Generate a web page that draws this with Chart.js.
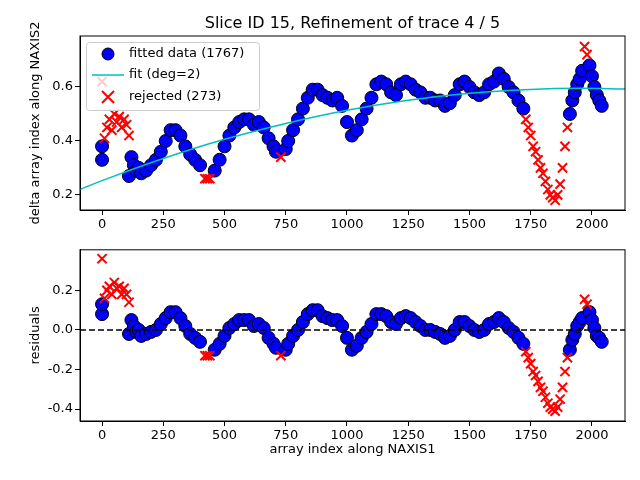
<!DOCTYPE html>
<html><head><meta charset="utf-8">
<script src="https://cdn.jsdelivr.net/npm/chart.js@4"></script>
<style>body{margin:0;background:#fff}#wrap{width:640px;height:480px}canvas{display:block}</style>
</head><body><div id="wrap">
<div style="width:640px;height:240px"><canvas id="top"></canvas></div>
<div style="width:640px;height:240px"><canvas id="bot"></canvas></div>
</div>
<script>
const fitX = [0,0,110,120,130,140,150,160,180,200,220,240,260,280,300,320,340,360,380,400,460,480,500,520,540,560,580,600,620,640,660,680,700,710,750,760,780,800,820,840,860,880,900,920,940,960,980,1000,1020,1040,1060,1080,1100,1120,1140,1160,1180,1200,1220,1240,1260,1280,1300,1320,1340,1360,1380,1400,1420,1440,1460,1480,1500,1520,1540,1560,1580,1600,1620,1640,1660,1680,1700,1720,1910,1920,1930,1940,1950,1960,1990,2000,2010,2020,2030,2040];
const fitY = [0.33,0.38,0.27,0.34,0.31,0.29,0.30,0.28,0.29,0.31,0.33,0.36,0.40,0.44,0.44,0.42,0.38,0.35,0.33,0.31,0.29,0.33,0.38,0.42,0.45,0.47,0.48,0.48,0.46,0.47,0.45,0.41,0.38,0.36,0.37,0.40,0.44,0.48,0.52,0.56,0.59,0.59,0.57,0.56,0.55,0.56,0.53,0.47,0.42,0.44,0.48,0.52,0.56,0.61,0.62,0.61,0.58,0.57,0.61,0.62,0.61,0.59,0.58,0.56,0.56,0.55,0.55,0.53,0.54,0.57,0.61,0.62,0.60,0.58,0.57,0.58,0.61,0.62,0.65,0.63,0.60,0.58,0.55,0.52,0.50,0.55,0.58,0.61,0.63,0.66,0.68,0.64,0.60,0.57,0.55,0.53];
const fitRes = [0.08,0.13,-0.02,0.05,0.02,-0.01,0.00,-0.03,-0.02,-0.01,0.00,0.03,0.06,0.09,0.09,0.06,0.02,-0.02,-0.04,-0.06,-0.10,-0.07,-0.03,0.01,0.03,0.05,0.05,0.05,0.02,0.03,0.01,-0.04,-0.07,-0.09,-0.10,-0.07,-0.03,0.00,0.04,0.08,0.10,0.10,0.07,0.06,0.05,0.05,0.02,-0.04,-0.10,-0.08,-0.04,-0.01,0.03,0.08,0.08,0.07,0.04,0.03,0.06,0.07,0.06,0.04,0.02,0.00,0.00,-0.01,-0.02,-0.04,-0.03,0.00,0.04,0.04,0.02,0.00,-0.01,0.00,0.03,0.04,0.06,0.04,0.01,-0.01,-0.04,-0.07,-0.10,-0.05,-0.02,0.02,0.04,0.06,0.09,0.05,0.01,-0.03,-0.04,-0.06];
const rejX = [0,10,20,30,40,50,60,70,80,90,100,110,420,430,440,730,1730,1740,1750,1760,1770,1780,1790,1800,1810,1820,1830,1840,1850,1860,1870,1880,1890,1900,1970,1980];
const rejY = [0.62,0.41,0.45,0.48,0.44,0.50,0.47,0.49,0.45,0.48,0.46,0.42,0.26,0.26,0.26,0.34,0.48,0.45,0.42,0.38,0.36,0.33,0.30,0.28,0.25,0.22,0.20,0.19,0.18,0.20,0.24,0.30,0.38,0.45,0.75,0.72];
const rejRes = [0.36,0.16,0.20,0.22,0.18,0.24,0.21,0.22,0.18,0.21,0.18,0.14,-0.13,-0.13,-0.13,-0.13,-0.11,-0.14,-0.17,-0.21,-0.23,-0.26,-0.29,-0.31,-0.34,-0.37,-0.39,-0.40,-0.41,-0.39,-0.35,-0.29,-0.21,-0.14,0.155,0.13];
const lineX = [-90,0,250,500,750,1000,1250,1500,1750,1950,2140];
const lineY = [0.22,0.253,0.335,0.406,0.465,0.514,0.551,0.577,0.591,0.595,0.592];
const xTicks = [0,250,500,750,1000,1250,1500,1750,2000];

const pts = (xs, ys) => xs.map((x, i) => ({x, y: ys[i]}));
const F = "'DejaVu Sans'";
Chart.defaults.font.family = F;
Chart.defaults.font.size = 13;
Chart.defaults.color = '#000';

const boxPlugin = {id:'box', afterDatasetsDraw(c){const a=c.chartArea,x=c.ctx;x.save();x.strokeStyle='#000';x.lineWidth=1;x.strokeRect(a.left,a.top,a.right-a.left,a.bottom-a.top);x.restore();}};
const fitted = d => ({label:'fitted data (1767)', data:d, backgroundColor:'#0000ff', borderColor:'#000', borderWidth:1, pointRadius:6.5, order:3});
const rejected = d => ({label:'rejected (273)', data:d, pointStyle:'crossRot', borderColor:'#ff0000', borderWidth:2, pointRadius:6.5, order:1});

function xScale(title, h){
  return {type:'linear', min:-90, max:2135,
    afterBuildTicks: s => { s.ticks = xTicks.map(v => ({value:v})); },
    afterFit: s => { s.height = h; },
    grid:{drawOnChartArea:false, color:'#000', tickLength:5},
    border:{color:'#000'},
    ticks:{maxRotation:0, autoSkip:false, padding:2, callback: v => String(v)},
    title: title ? {display:true, text:title, padding:{top:2}} : {display:false}};
}
function yScale(min, max, ticks, title){
  return {min, max,
    afterBuildTicks: s => { s.ticks = ticks.map(v => ({value:v})); },
    afterFit: s => { s.width = 56; },
    grid:{drawOnChartArea:false, color:'#000', tickLength:5},
    border:{color:'#000'},
    ticks:{padding:2, callback: v => v.toFixed(1)},
    title:{display:true, text:title, padding:{bottom:0}}};
}

new Chart(document.getElementById('top'), {
  type:'scatter',
  data:{datasets:[
    fitted(pts(fitX, fitY)),
    {label:'fit (deg=2)', type:'line', data:pts(lineX, lineY), borderColor:'#00bfbf', borderWidth:1.5, pointRadius:0, tension:0.4, order:2},
    rejected(pts(rejX, rejY))
  ]},
  options:{animation:false, responsive:true, maintainAspectRatio:false,
    layout:{padding:{top:36, right:15, left:24, bottom:0}},
    plugins:{legend:{display:false}, tooltip:{enabled:false}},
    scales:{x:xScale(null, 30), y:yScale(0.144, 0.789, [0.2,0.4,0.6], 'delta array index along NAXIS2')}},
  plugins:[boxPlugin, {id:'deco', afterDraw(c){
    const x=c.ctx; x.save();
    x.font="16px "+F; x.fillStyle='#000'; x.textAlign='center'; x.textBaseline='alphabetic';
    x.fillText('Slice ID 15, Refinement of trace 4 / 5', (c.chartArea.left+c.chartArea.right)/2, 28);
    const L=86, T=42;
    x.fillStyle='rgba(255,255,255,0.8)'; x.strokeStyle='#ccc'; x.lineWidth=1;
    x.beginPath(); x.roundRect(L+0.5,T+0.5,173,68,3); x.fill(); x.stroke();
    x.textAlign='left'; x.textBaseline='middle'; x.font="13px "+F; x.fillStyle='#000';
    x.fillText('fitted data (1767)', L+43, T+12);
    x.fillText('fit (deg=2)', L+43, T+33);
    x.fillText('rejected (273)', L+43, T+55);
    x.beginPath(); x.arc(L+22, T+12, 6, 0, 2*Math.PI); x.fillStyle='#0000ff'; x.fill(); x.strokeStyle='#000'; x.stroke();
    x.beginPath(); x.moveTo(L+6, T+33); x.lineTo(L+38, T+33); x.strokeStyle='#00bfbf'; x.lineWidth=1.5; x.stroke();
    x.beginPath(); x.moveTo(L+16,T+49); x.lineTo(L+28,T+61); x.moveTo(L+28,T+49); x.lineTo(L+16,T+61); x.strokeStyle='#ff0000'; x.lineWidth=2; x.stroke();
    x.restore();
  }}]
});

new Chart(document.getElementById('bot'), {
  type:'scatter',
  data:{datasets:[
    fitted(pts(fitX, fitRes)),
    {label:'zero', type:'line', data:[{x:-90,y:0},{x:2135,y:0}], borderColor:'#000', borderWidth:1.5, borderDash:[6,3], pointRadius:0, order:2},
    rejected(pts(rejX, rejRes))
  ]},
  options:{animation:false, responsive:true, maintainAspectRatio:false,
    layout:{padding:{top:8, right:15, left:24, bottom:19}},
    plugins:{legend:{display:false}, tooltip:{enabled:false}},
    scales:{x:xScale('array index along NAXIS1', 40), y:yScale(-0.46, 0.405, [-0.4,-0.2,0,0.2], 'residuals')}},
  plugins:[boxPlugin]
});
</script></body></html>
